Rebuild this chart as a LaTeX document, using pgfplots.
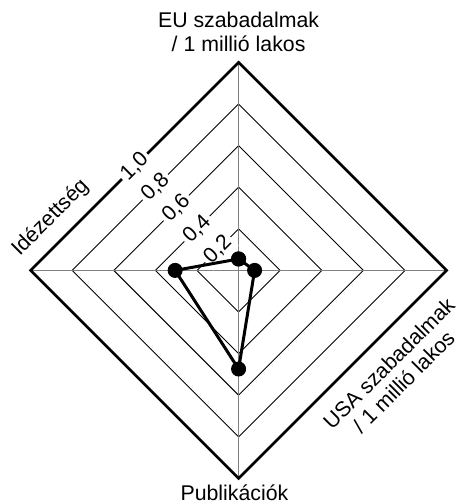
\documentclass[border=0pt]{standalone}
\usepackage{fontspec}
\setmainfont{Liberation Sans}
\usepackage{pgfplots}
\pgfplotsset{compat=1.18}
\tikzset{lbl/.style={font=\fontsize{21.3bp}{24bp}\selectfont}}
\begin{document}
\begin{tikzpicture}
\begin{axis}[
  scale only axis, width=416bp, height=416bp,
  xmin=-1, xmax=1, ymin=-1, ymax=1,
  axis lines=none, clip=false,
]
% inner grid diamonds
\addplot[black, line width=0.9bp, line join=miter] coordinates {(0,0.2) (0.2,0) (0,-0.2) (-0.2,0)} -- cycle;
\addplot[black, line width=0.9bp, line join=miter] coordinates {(0,0.4) (0.4,0) (0,-0.4) (-0.4,0)} -- cycle;
\addplot[black, line width=0.9bp, line join=miter] coordinates {(0,0.6) (0.6,0) (0,-0.6) (-0.6,0)} -- cycle;
\addplot[black, line width=0.9bp, line join=miter] coordinates {(0,0.8) (0.8,0) (0,-0.8) (-0.8,0)} -- cycle;
% spokes
\addplot[gray, line width=1.6bp] coordinates {(0,1) (0,-1)};
\addplot[gray, line width=1.6bp] coordinates {(-1,0) (1,0)};
% outer diamond
\addplot[black, line width=2.6bp, line join=miter] coordinates {(0,1) (1,0) (0,-1) (-1,0)} -- cycle;
% tick labels
\node[lbl, rotate=45, fill=white, inner sep=3bp] at (axis cs:-0.1,0.1) {0,2};
\node[lbl, rotate=45, fill=white, inner sep=3bp] at (axis cs:-0.2,0.2) {0,4};
\node[lbl, rotate=45, fill=white, inner sep=3bp] at (axis cs:-0.3,0.3) {0,6};
\node[lbl, rotate=45, fill=white, inner sep=3bp] at (axis cs:-0.4,0.4) {0,8};
\node[lbl, rotate=45, fill=white, inner sep=3bp] at (axis cs:-0.5,0.5) {1,0};
% category labels
\node[lbl, anchor=base] at (axis cs:0,1.166) {EU szabadalmak};
\node[lbl, anchor=base] at (axis cs:0,1.050) {/ 1 millió lakos};
\node[lbl, anchor=base] at (axis cs:-0.02,-1.108) {Publikációk};
\node[lbl, rotate=45] at (axis cs:-0.904,0.252) {Idézettség};
\node[lbl, rotate=45] at (axis cs:0.722,-0.446) {USA szabadalmak};
\node[lbl, rotate=45] at (axis cs:0.793,-0.533) {/ 1 millió lakos};
% data
\addplot[black, line width=3bp, line join=round, mark=*, mark size=7bp, mark options={solid, fill=black, line width=1bp}]
  coordinates {(0,0.055) (0.077,0) (0,-0.474) (-0.305,0) (0,0.055)};
\coordinate (bbsw) at (axis cs:-1.147,-1.123);
\coordinate (bbne) at (axis cs:1.055,1.300);
\end{axis}
\pgfresetboundingbox
\useasboundingbox (bbsw) rectangle (bbne);
\end{tikzpicture}
\end{document}
